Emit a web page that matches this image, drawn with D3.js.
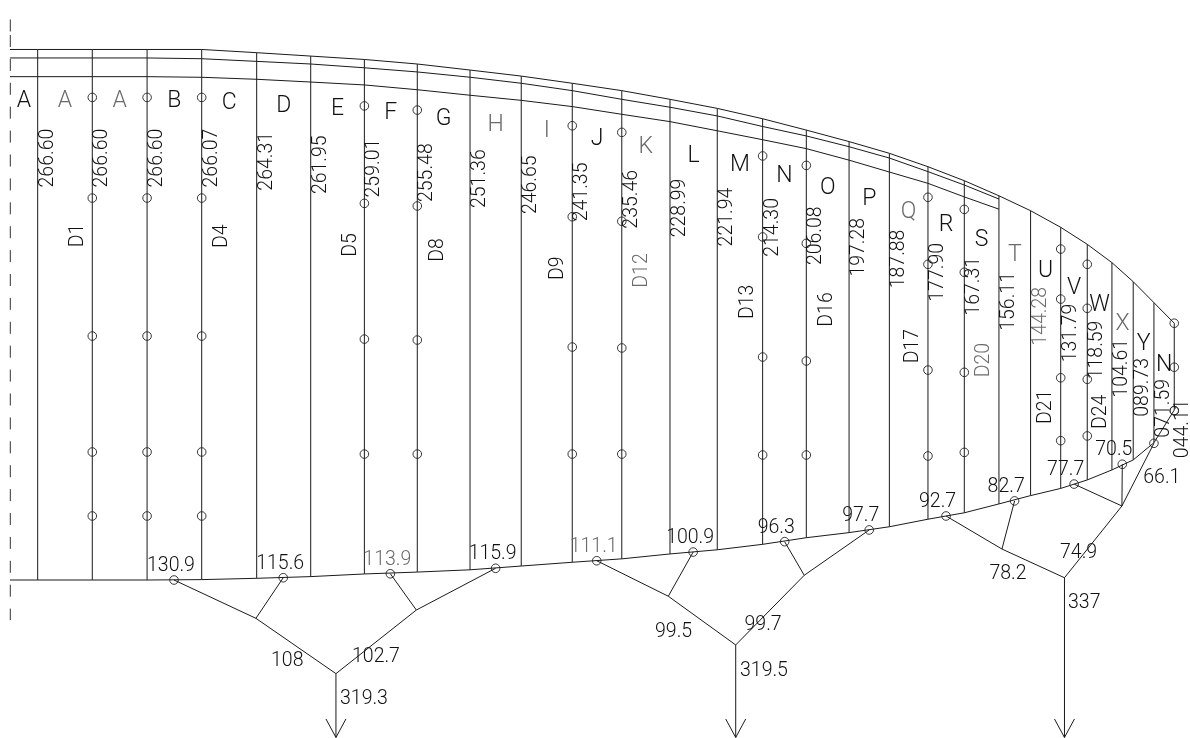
<!DOCTYPE html>
<html>
<head>
<meta charset="utf-8">
<style>
  html, body { margin: 0; padding: 0; background: #fff; }
  svg { will-change: transform; }
  text { font-family: Roboto, "Liberation Sans", sans-serif; font-weight: 300; fill: #111; }
</style>
</head>
<body>
<div id="chart"></div>
<script src="https://cdn.jsdelivr.net/npm/d3@7"></script>
<script>
// bay letters and rib lengths, root to tip
const bayLetters = ["A","A","A","B","C","D","E","F","G","H","I","J","K","L","M","N","O","P","Q","R","S","T","U","V","W","X","Y","N"];
const ribLengths = ["266.60","266.60","266.60","266.07","264.31","261.95","259.01","255.48","251.36","246.65","241.35","235.46","228.99","221.94","214.30","206.08","197.28","187.88","177.90","167.31","156.11","144.28","131.79","118.59","104.61","089.73","071.59","044.11"];

// rib stations along the span
const ribStation = [14.7,43.7,72.8,101.8,131.0,159.7,188.2,216.3,244.3,271.5,298.6,324.9,350.5,375.6,399.7,422.9,445.6,467.0,487.5,506.8,525.2,542.0,558.0,572.1,585.2,596.5,607.5,618.3];
// heights of the three upper edges and the lower edge at each rib
const outerEdge = [281.0,281.0,281.0,281.0,279.3,277.5,275.7,273.3,270.1,266.9,263.1,259.2,254.6,249.8,244.3,238.3,232.2,226.0,218.9,211.5,203.5,195.6,186.8,177.8,168.1,158.0,146.9,136.0];
const middleEdge = [276.5,276.5,276.5,276.1,274.7,273.3,271.3,269.1,266.3,263.1,259.2,254.6,250.4,245.8,240.2,235.2,229.5,223.5,216.3,209.2,201.8];
const lowerEdge = [0,0,0,0.2,0.9,1.8,3.2,4.2,5.4,7.4,9.4,11.2,13.8,16.0,18.9,22.4,25.1,28.2,32.2,35.6,40.3,44.7,48.5,53.0,58.3,63.6,72.7,90.0];

// bolt holes: rib index and hole heights
const holeRibs = [1,2,3,6,7,10,11,14,15,18,19,22,23,27];
const holeHeights = [
  [255.6,202.3,129.2,67.8,33.9],
  [255.6,202.3,129.2,67.8,33.9],
  [255.6,202.3,129.2,67.8,33.9],
  [251.1,199.5,127.6,66.7],
  [248.9,198.1,127.1,66.7],
  [240.6,192.4,123.4,66.7],
  [237.1,190.0,122.9,66.7],
  [224.6,181.7,118.1,66.2],
  [219.6,178.3,116.0,66.2],
  [202.7,167.2,111.2,65.7],
  [196.3,163.0,110.0,67.6],
  [175.3,148.8,107.1,73.8],
  [167.2,143.9,106.3,76.3],
  [136.0,112.7,89.7]
];

// load nodes on the lower edge
const nodeStation = [87.1,145.1,202.0,257.9,311.6,362.8,411.4,456.3,497.1,533.5,565.1,590.7,607.5,618.3];
const nodeHeight = [0,1.2,3.3,6.2,10.2,14.8,20.3,26.5,33.9,41.9,50.8,61.3,72.4,89.7];
const nodeLoads = ["130.9","115.6","113.9","115.9","111.1","100.9","96.3","97.7","92.7","82.7","77.7","70.5"];

// whiffle tree joints
const jointStation = [130.6,215.8,173.1,349.6,421.8,385.4,526.8,590.5,560.0];
const jointHeight = [-20.3,-15.9,-49.6,-8.6,2.5,-34.4,16.4,39.2,1.2];
const arrowJoints = [2,5,8];
const arrowTipHeight = -83.4;
// [from, to]: node index, or joint index + 100
const treeMembers = [[0,100],[1,100],[2,101],[3,101],[100,102],[101,102],
  [4,103],[5,103],[6,104],[7,104],[103,105],[104,105],
  [8,106],[9,106],[10,107],[11,107],[12,107],[106,108],[107,108]];

const diameterText = ["D1","D4","D5","D8","D9","D12","D13","D16","D17","D20","D21","D24"];
const memberText = ["108","102.7","319.3","99.5","99.7","319.5","78.2","74.9","337","66.1"];

const width = 1190, height = 738;
const unitX = 1.883, unitY = 1.888;

const x = d3.scaleLinear().domain([0, 632]).range([10, 10 + 632 * unitX]);
const y = d3.scaleLinear().domain([0, 310]).range([580, 580 - 310 * unitY]);

const svg = d3.select("#chart").append("svg")
  .attr("width", width)
  .attr("height", height)
  .attr("viewBox", `0 0 ${width} ${height}`)
  .style("display", "block");

const edgeLine = d3.line().x(d => x(d[0])).y(d => y(d[1]));
const ink = "#1a1a1a";

function drawLine(x1, y1, x2, y2) {
  svg.append("line")
    .attr("x1", x1).attr("y1", y1).attr("x2", x2).attr("y2", y2)
    .attr("stroke", ink).attr("stroke-width", 1);
}

// centre line
svg.append("line")
  .attr("x1", 10.3).attr("x2", 10.3).attr("y1", 19.5).attr("y2", 31.5)
  .attr("stroke", "#333").attr("stroke-width", 1);
svg.append("line")
  .attr("x1", 10.3).attr("x2", 10.3).attr("y1", 35).attr("y2", 620)
  .attr("stroke", "#333").attr("stroke-width", 1)
  .attr("stroke-dasharray", "12 11.9");

// edges
const withRoot = (values, rootValue) => [[0, rootValue]].concat(values.map((v, i) => [ribStation[i], v]));
const innerEdge = middleEdge.map((_, i) => lowerEdge[i] + +ribLengths[i]);
[withRoot(outerEdge, outerEdge[0]), withRoot(middleEdge, middleEdge[0]), withRoot(innerEdge, innerEdge[0]), withRoot(lowerEdge, 0)]
  .forEach(pts => {
    svg.append("path")
      .attr("d", edgeLine(pts))
      .attr("fill", "none")
      .attr("stroke", ink)
      .attr("stroke-width", 1);
  });

// ribs
svg.selectAll(".rib")
  .data(ribStation)
  .enter()
  .append("line")
  .attr("class", "rib")
  .attr("x1", d => x(d))
  .attr("x2", d => x(d))
  .attr("y1", (d, i) => y(outerEdge[i]))
  .attr("y2", (d, i) => y(lowerEdge[i]))
  .attr("stroke", ink)
  .attr("stroke-width", 1);

// holes
const holes = holeRibs.flatMap((r, i) => holeHeights[i].map(h => [ribStation[r], h]));
const nodes = nodeStation.map((s, i) => [s, nodeHeight[i]]);
svg.selectAll(".hole")
  .data(holes.concat(nodes))
  .enter()
  .append("circle")
  .attr("class", "hole")
  .attr("cx", d => x(d[0]))
  .attr("cy", d => y(d[1]))
  .attr("r", 4.3)
  .attr("fill", "none")
  .attr("stroke", "#222")
  .attr("stroke-width", 0.9);

// whiffle tree
const treePoint = id => id >= 100
  ? [x(jointStation[id - 100]), y(jointHeight[id - 100])]
  : [x(nodeStation[id]), y(nodeHeight[id])];

treeMembers.forEach(m => {
  const a = treePoint(m[0]), b = treePoint(m[1]);
  drawLine(a[0], a[1], b[0], b[1]);
});

arrowJoints.forEach(j => {
  const ax = x(jointStation[j]), tip = y(arrowTipHeight);
  drawLine(ax, y(jointHeight[j]), ax, tip);
  drawLine(ax - 10, tip - 18.5, ax, tip);
  drawLine(ax + 10, tip - 18.5, ax, tip);
});

// labels
const greyLetters = [1, 2, 9, 10, 12, 18, 21, 25];
const greyLengths = [21];
const greyLoads = [2, 4];
const greyDiameters = [5, 9];
const labelGrey = "#6b6b6b";

const bayStart = i => i === 0 ? 0 : ribStation[i - 1];
const bayOuter = i => i === 0 ? outerEdge[0] : outerEdge[i - 1];

svg.selectAll(".bay")
  .data(bayLetters)
  .enter()
  .append("text")
  .attr("class", "bay")
  .attr("x", (d, i) => (x(bayStart(i)) + x(ribStation[i])) / 2)
  .attr("y", (d, i) => (y(bayOuter(i)) + y(outerEdge[i])) / 2 + 57.7)
  .attr("text-anchor", "middle")
  .style("font-size", "23px")
  .style("fill", (d, i) => greyLetters.includes(i) ? labelGrey : null)
  .text(d => d);

svg.selectAll(".length")
  .data(ribLengths)
  .enter()
  .append("text")
  .attr("class", "length")
  .attr("transform", (d, i) => `translate(${x(ribStation[i]) + (i === 27 ? 13.5 : 15)},${y(outerEdge[i]) + (i < 15 ? 138 : 135)}) rotate(-90)`)
  .style("font-size", "19.5px")
  .style("fill", (d, i) => greyLengths.includes(i) ? labelGrey : null)
  .text(d => d);

svg.selectAll(".load")
  .data(nodeLoads)
  .enter()
  .append("text")
  .attr("class", "load")
  .attr("x", (d, i) => x(nodeStation[i]) - 27)
  .attr("y", (d, i) => y(nodeHeight[i]) - 9)
  .style("font-size", "19.5px")
  .style("fill", (d, i) => greyLoads.includes(i) ? labelGrey : null)
  .text(d => d);

const diameterPos = [[83.3,247.3],[226.7,248],[355.7,256.7],[442.7,261.7],[563.3,280],[646.7,287.7],[753.3,319],[831.7,326.7],[918.3,363.3],[989,377.3],[1051,424],[1106,429]];
svg.selectAll(".diameter")
  .data(diameterText)
  .enter()
  .append("text")
  .attr("class", "diameter")
  .attr("transform", (d, i) => `translate(${diameterPos[i][0]},${diameterPos[i][1]}) rotate(-90)`)
  .style("font-size", "19.5px")
  .style("fill", (d, i) => greyDiameters.includes(i) ? labelGrey : null)
  .text(d => d);

const memberPos = [[271,665.7],[352,662.3],[340,704.3],[655,636.7],[744.5,630],[740,676],[989.4,579.3],[1060,558.3],[1068,608.3],[1143.3,483.3]];
svg.selectAll(".member")
  .data(memberText)
  .enter()
  .append("text")
  .attr("class", "member")
  .attr("x", (d, i) => memberPos[i][0])
  .attr("y", (d, i) => memberPos[i][1])
  .style("font-size", "19.5px")
  .text(d => d);
</script>
</body>
</html>
